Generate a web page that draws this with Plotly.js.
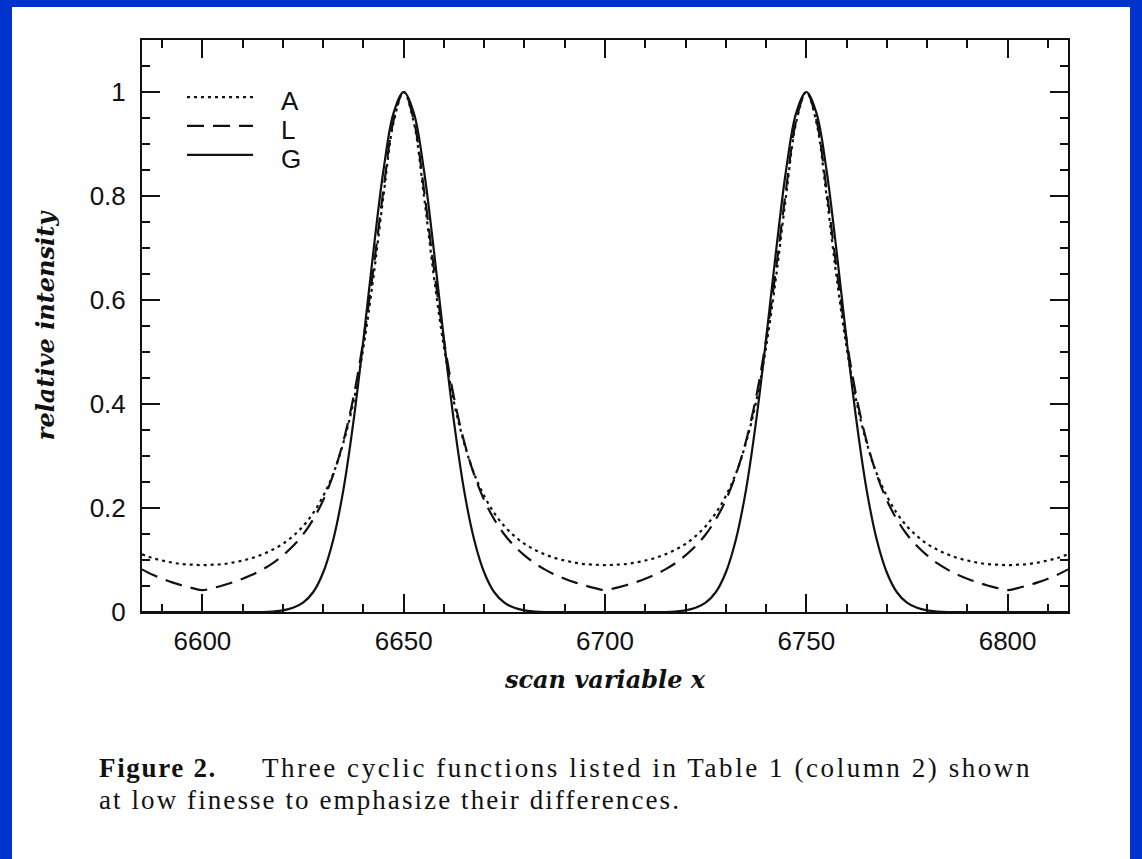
<!DOCTYPE html>
<html><head><meta charset="utf-8">
<script src="https://cdn.plot.ly/plotly-3.0.1.min.js"></script>
<style>
html,body{margin:0;padding:0;background:#0033cc;width:1142px;height:859px;overflow:hidden;}
#panel{position:absolute;left:12px;top:7px;width:1118px;height:852px;background:#fff;}
#chart{position:absolute;left:0;top:0;width:1142px;height:859px;}
.cap{position:absolute;font-family:"Liberation Serif",serif;font-size:27px;line-height:30px;color:#111;white-space:nowrap;}
</style></head><body>
<div id="panel"></div>
<div id="chart"></div>
<div class="cap" id="cap1a" style="left:99px;top:753px;font-weight:bold">Figure 2.</div>
<div class="cap" id="cap1b" style="left:262px;top:753px;">Three cyclic functions listed in Table 1 (column 2) shown</div>
<div class="cap" id="cap2" style="left:99px;top:785px;">at low finesse to emphasize their differences.</div>
<script>
// scan variable x (sampled every 2.5)
const xValues = [6585,6587.5,6590,6592.5,6595,6597.5,6600,6602.5,6605,6607.5,6610,6612.5,6615,6617.5,6620,6622.5,6625,6627.5,6630,6632.5,6635,6637.5,6640,6642.5,6645,6647.5,
6650,6652.5,6655,6657.5,6660,6662.5,6665,6667.5,6670,6672.5,6675,6677.5,6680,6682.5,6685,6687.5,6690,6692.5,6695,6697.5,
6700,6702.5,6705,6707.5,6710,6712.5,6715,6717.5,6720,6722.5,6725,6727.5,6730,6732.5,6735,6737.5,6740,6742.5,6745,6747.5,
6750,6752.5,6755,6757.5,6760,6762.5,6765,6767.5,6770,6772.5,6775,6777.5,6780,6782.5,6785,6787.5,6790,6792.5,6795,6797.5,
6800,6802.5,6805,6807.5,6810,6812.5,6815];

// A (dotted)
const seriesA = [0.111,0.104,0.099,0.095,0.092,0.091,0.090,
0.091,0.092,0.095,0.099,0.104,0.111,0.120,0.131,0.146,0.165,0.190,0.223,0.266,0.325,0.403,0.509,0.645,0.802,0.942,1.000,
0.942,0.802,0.645,0.509,0.403,0.325,0.266,0.223,0.190,0.165,0.146,0.131,0.120,0.111,0.104,0.099,0.095,0.092,0.091,0.090,
0.091,0.092,0.095,0.099,0.104,0.111,0.120,0.131,0.146,0.165,0.190,0.223,0.266,0.325,0.403,0.509,0.645,0.802,0.942,1.000,
0.942,0.802,0.645,0.509,0.403,0.325,0.266,0.223,0.190,0.165,0.146,0.131,0.120,0.111,0.104,0.099,0.095,0.092,0.091,0.090,
0.091,0.092,0.095,0.099,0.104,0.111];

// L (dashed)
const seriesL = [0.082,0.072,0.064,0.057,0.051,0.046,0.042,
0.046,0.051,0.057,0.064,0.072,0.082,0.094,0.109,0.127,0.149,0.178,0.215,0.264,0.328,0.412,0.523,0.661,0.814,0.946,1.000,
0.946,0.814,0.661,0.523,0.412,0.328,0.264,0.215,0.178,0.149,0.127,0.109,0.094,0.082,0.072,0.064,0.057,0.051,0.046,0.042,
0.046,0.051,0.057,0.064,0.072,0.082,0.094,0.109,0.127,0.149,0.178,0.215,0.264,0.328,0.412,0.523,0.661,0.814,0.946,1.000,
0.946,0.814,0.661,0.523,0.412,0.328,0.264,0.215,0.178,0.149,0.127,0.109,0.094,0.082,0.072,0.064,0.057,0.051,0.046,0.042,
0.046,0.051,0.057,0.064,0.072,0.082];

// G (solid)
const seriesG = [0,0,0,0,0,0,0,
0,0,0,0,0,0,0.001,0.003,0.008,0.018,0.038,0.076,0.139,0.234,0.365,0.524,0.695,0.851,0.960,1.000,
0.960,0.851,0.695,0.524,0.365,0.234,0.139,0.076,0.038,0.018,0.008,0.003,0.001,0,0,0,0,0,0,0,
0,0,0,0,0,0,0.001,0.003,0.008,0.018,0.038,0.076,0.139,0.234,0.365,0.524,0.695,0.851,0.960,1.000,
0.960,0.851,0.695,0.524,0.365,0.234,0.139,0.076,0.038,0.018,0.008,0.003,0.001,0,0,0,0,0,0,0,
0,0,0,0,0,0];

const seriesNames = ['A','L','G'];
const seriesDash = ['3px,4px','17px,9px','solid'];
const allSeries = [seriesA, seriesL, seriesG];

const ink = '#111';
const traces = allSeries.map((ys,i)=>({
  x: xValues, y: ys, name: seriesNames[i], type:'scatter', mode:'lines',
  line:{color:ink, width:2.2, dash:seriesDash[i], shape:'spline', smoothing:1},
  hoverinfo:'skip', showlegend:false
}));

// manual legend (long line samples as in original)
const legRows = [0.9003, 0.8497, 0.7990];
const shapes = [], annotations = [];
seriesNames.forEach((n,i)=>{
  shapes.push({type:'line', xref:'paper', yref:'paper', x0:0.0486, x1:0.1199, y0:legRows[i], y1:legRows[i],
    line:{color:ink, width:2.2, dash:seriesDash[i]}});
  annotations.push({xref:'paper', yref:'paper', x:0.148, y:legRows[i]-0.007, xanchor:'left', yanchor:'middle',
    text:n, showarrow:false, font:{family:'Liberation Sans', size:26, color:ink}});
});

const axCommon = {
  showline:true, linecolor:ink, linewidth:2, mirror:'ticks', ticks:'inside', ticklen:18, tickwidth:2, tickcolor:ink,
  showgrid:false, zeroline:false, fixedrange:true,
  tickfont:{family:'Liberation Sans', size:26, color:ink}
};

const layout = {
  width:1142, height:859,
  margin:{l:142, r:74, t:40, b:247},
  paper_bgcolor:'rgba(0,0,0,0)', plot_bgcolor:'rgba(0,0,0,0)',
  xaxis: Object.assign({}, axCommon, {
    range:[6585,6815], tickmode:'linear', tick0:6600, dtick:50, ticklabelstandoff:5,
    minor:{tick0:6600, dtick:10, ticks:'inside', ticklen:8, tickwidth:2, tickcolor:ink, showgrid:false},
    title:{text:'scan variable x', standoff:16,
      font:{family:'DejaVu Serif', size:24, style:'italic', weight:'bold', color:ink}}
  }),
  yaxis: Object.assign({}, axCommon, {
    range:[0,1.1], tickmode:'linear', tick0:0, dtick:0.2, ticklabelstandoff:9,
    minor:{tick0:0, dtick:0.05, ticks:'inside', ticklen:8, tickwidth:2, tickcolor:ink, showgrid:false},
    title:{text:'relative intensity', standoff:28,
      font:{family:'DejaVu Serif', size:24, style:'italic', weight:'bold', color:ink}}
  }),
  shapes: shapes, annotations: annotations, showlegend:false
};

Plotly.newPlot('chart', traces, layout, {staticPlot:true, displayModeBar:false});

function fit(id, target){
  const el = document.getElementById(id);
  el.style.letterSpacing = '0px';
  const w = el.getBoundingClientRect().width;
  const n = el.textContent.length;
  el.style.letterSpacing = ((target - w)/n) + 'px';
}
fit('cap1a', 118); fit('cap1b', 770); fit('cap2', 582);
</script>
</body></html>
